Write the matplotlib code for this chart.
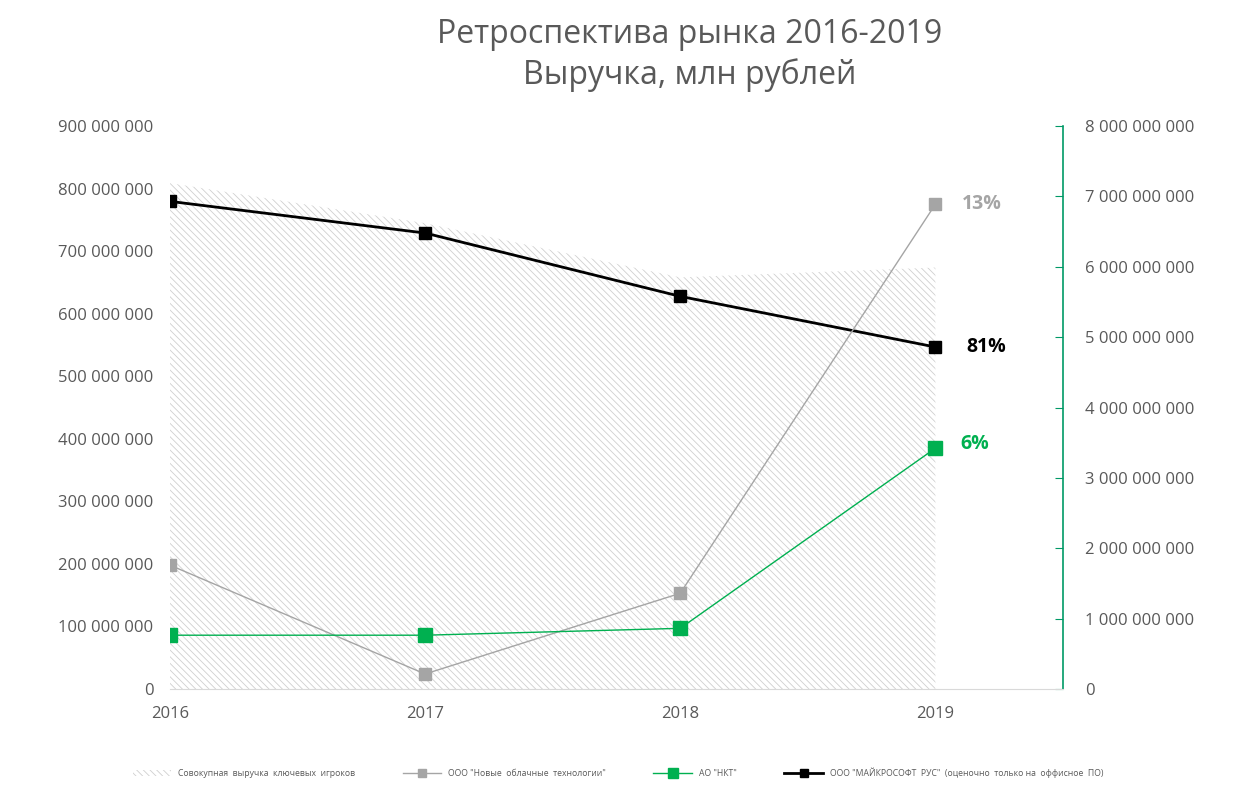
import matplotlib
matplotlib.use("Agg")
import matplotlib.pyplot as plt
import numpy as np

plt.rcParams['font.family'] = ['Open Sans', 'DejaVu Sans']
plt.rcParams['hatch.linewidth'] = 0.6

years = ['2016', '2017', '2018', '2019']
total_rev = [7.19e9, 6.62e9, 5.85e9, 5.99e9]         # правая ось
microsoft = [6.93e9, 6.48e9, 5.58e9, 4.86e9]         # правая ось
cloud_tech = [198e6, 24e6, 153e6, 775e6]             # левая ось
nkt = [86e6, 86e6, 97e6, 385e6]                      # левая ось
share_labels = ['13%', '81%', '6%']

names = ['Совокупная  выручка  ключевых  игроков',
         'ООО "Новые  облачные  технологии"',
         'АО "НКТ"',
         'ООО "МАЙКРОСОФТ  РУС"  (оценочно  только на  оффисное  ПО)']

GRAY = '#a5a5a5'
GREEN = '#00b050'
TXT = '#595959'


def fmt(v, pos):
    return '{:,.0f}'.format(v).replace(',', ' ')


fig = plt.figure(figsize=(12.36, 7.98), dpi=100)
ax = fig.add_axes([0.1375, 0.1366, 0.7225, 0.7054])
ax2 = ax.twinx()
ax.set_zorder(ax2.get_zorder() + 1)
ax.patch.set_visible(False)

x = np.arange(len(years))

# area + black line on the right axis
area = ax2.fill_between(x, 0, total_rev, facecolor='white', edgecolor='#d0d0d0',
                        hatch='\\\\\\\\\\', linewidth=0, label=names[0])
l_ms, = ax2.plot(x, microsoft, color='black', lw=2, marker='s', ms=9,
                 label=names[3])

# gray + green on the left axis
l_ct, = ax.plot(x, cloud_tech, color=GRAY, lw=1, marker='s', ms=8.5,
                label=names[1])
l_nkt, = ax.plot(x, nkt, color=GREEN, lw=1, marker='s', ms=10.5,
                 label=names[2])

ax.set_xlim(0, 3.5)
ax.set_ylim(0, 900e6)
ax2.set_ylim(0, 8e9)
ax.set_xticks(x)
ax.set_xticklabels(years)
ax.set_yticks(np.arange(0, 900e6 + 1, 100e6))
ax2.set_yticks(np.arange(0, 8e9 + 1, 1e9))
ax.yaxis.set_major_formatter(plt.FuncFormatter(fmt))
ax2.yaxis.set_major_formatter(plt.FuncFormatter(fmt))

for a in (ax, ax2):
    for s in ('top', 'left', 'right', 'bottom'):
        a.spines[s].set_visible(False)
ax.spines['bottom'].set_visible(True)
ax.spines['bottom'].set_color('#d9d9d9')
ax2.spines['right'].set_visible(True)
ax2.spines['right'].set_color('#009966')
ax2.spines['right'].set_linewidth(1.2)

ax.tick_params(axis='y', length=0, labelsize=12, labelcolor=TXT, pad=12)
ax.tick_params(axis='x', length=0, labelsize=12, labelcolor=TXT, pad=12)
ax2.tick_params(axis='y', direction='in', length=6, color='#009966',
                labelsize=12, labelcolor=TXT, pad=16)

# share labels
ax.annotate(share_labels[0], (3, cloud_tech[3]), xytext=(19, 0),
            textcoords='offset points', color=GRAY, fontsize=14,
            fontweight='bold', va='center')
ax2.annotate(share_labels[1], (3, microsoft[3]), xytext=(22, 0),
             textcoords='offset points', color='black', fontsize=14,
             fontweight='bold', va='center')
ax.annotate(share_labels[2], (3, nkt[3]), xytext=(18, 3),
            textcoords='offset points', color=GREEN, fontsize=14,
            fontweight='bold', va='center')

fig.text(0.558, 0.931, 'Ретроспектива рынка 2016-2019\nВыручка, млн рублей',
         ha='center', va='center', fontsize=23, color=TXT, linespacing=1.25)

fig.legend([area, l_ct, l_nkt, l_ms], names, loc='center', ncol=4,
           bbox_to_anchor=(0.5, 0.032), frameon=False, fontsize=6.2,
           labelcolor=TXT, handlelength=4.5, columnspacing=5.5, markerscale=0.7)

fig.savefig('out.png', dpi=100)
